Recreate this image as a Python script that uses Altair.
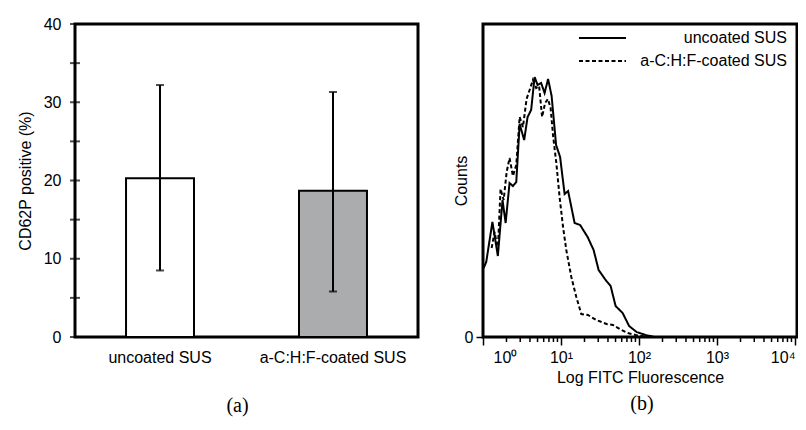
import altair as alt
import pandas as pd

FONT = "Liberation Sans"

# ---------------- panel (a) data ----------------
categories = ["uncoated SUS", "a-C:H:F-coated SUS"]
means = [20.3, 18.7]
err_low = [8.5, 5.8]
err_high = [32.2, 31.3]
bar_fill = ["#ffffff", "#aaacae"]
y_ticks = [0, 5, 10, 15, 20, 25, 30, 35, 40]

# ---------------- panel (b) data ----------------
unc_fluor = [1.02, 1.10, 1.32, 1.55, 1.78, 1.95, 2.19, 2.42, 2.67, 2.95, 3.37, 3.73,
             4.14, 4.59, 5.01, 5.56, 6.16, 6.83, 7.58, 8.65, 9.74, 11.12, 12.33,
             14.94, 17.58, 21.93, 26.18, 30.35, 37.31, 43.25, 50.12, 61.63, 74.67,
             93.16, 121.5, 158.5]
unc_counts = [69, 75, 115, 81, 137, 114, 154, 151, 155, 213, 197, 220,
              227, 260, 252, 254, 244, 258, 241, 192, 180, 143, 146,
              114, 112, 100, 87, 67, 57, 51, 31, 24, 11,
              5, 2, 0]
coat_fluor = [1.29, 1.41, 1.55, 1.68, 1.84, 2.01, 2.19, 2.42, 2.67, 2.95, 3.25, 3.62,
              3.96, 4.36, 4.80, 5.24, 5.72, 6.25, 6.79, 7.36, 7.92, 8.71, 9.59,
              10.58, 11.69, 13.56, 15.71, 18.21, 22.13, 28.36, 38.42, 46.28, 56.40,
              71.43, 90.42, 118.0, 145.0]
coat_counts = [89, 105, 87, 148, 137, 165, 179, 161, 172, 220, 210, 238,
               247, 257, 249, 251, 220, 234, 238, 229, 201, 174, 140,
               111, 87, 60, 40, 23, 22, 17, 13, 12, 8,
               4, 2, 0.5, 0]
series_names = ["uncoated SUS", "a-C:H:F-coated SUS"]
x_major = [1, 10, 100, 1000, 10000]
x_minor = [m * 10 ** k for k in range(4) for m in range(2, 10)]

# ---------------- panel (a) ----------------
df_bar = pd.DataFrame({"cat": categories, "mean": means, "lo": err_low, "hi": err_high})
df_yt = pd.DataFrame({"v": y_ticks})

W_A, H = 343, 313

x_a = alt.X("cat:N", sort=categories,
            scale=alt.Scale(paddingInner=0.607, paddingOuter=0.295),
            axis=alt.Axis(title=None, labelAngle=0, ticks=False, domain=False,
                          labelPadding=12, labelFontSize=16))

bars = alt.Chart(df_bar).mark_bar(stroke="black", strokeWidth=2).encode(
    x=x_a,
    y=alt.Y("mean:Q", scale=alt.Scale(domain=[0, 40], nice=False),
            axis=alt.Axis(values=y_ticks, ticks=False, domain=False, grid=False,
                          labelOverlap=False,
                          title="CD62P positive (%)", labelPadding=14,
                          titleX=-49.5, titleBaseline="middle")),
    fill=alt.Fill("cat:N", scale=alt.Scale(domain=categories, range=bar_fill), legend=None),
)
err_rule = alt.Chart(df_bar).mark_rule(color="black", strokeWidth=2).encode(
    x=alt.X("cat:N", sort=categories), y="lo:Q", y2="hi:Q")
cap_lo = alt.Chart(df_bar).mark_tick(color="black", size=8, thickness=2).encode(
    x=alt.X("cat:N", sort=categories), y="lo:Q")
cap_hi = alt.Chart(df_bar).mark_tick(color="black", size=8, thickness=2).encode(
    x=alt.X("cat:N", sort=categories), y="hi:Q")
in_ticks = alt.Chart(df_yt).mark_tick(color="black", orient="horizontal", size=10,
                                      thickness=2).encode(
    y="v:Q", x=alt.value(0))

left = alt.layer(bars, err_rule, cap_lo, cap_hi, in_ticks).properties(
    width=W_A, height=H,
    title=alt.TitleParams("(a)", orient="bottom", font="Liberation Serif", fontSize=20,
                          fontWeight="normal", color="black", frame="group",
                          dx=-9, offset=31),
)

# ---------------- panel (b) ----------------
W_B = 314
df_curves = pd.concat([
    pd.DataFrame({"fluor": unc_fluor, "count": unc_counts, "series": series_names[0]}),
    pd.DataFrame({"fluor": coat_fluor, "count": coat_counts, "series": series_names[1]}),
])
df_minor = pd.DataFrame({"v": x_minor})
one = pd.DataFrame({"a": [0]})

dash_scale = alt.Scale(domain=series_names, range=[[1, 0], [4, 2.5]])

lines = alt.Chart(df_curves).mark_line(color="black", strokeWidth=2).encode(
    x=alt.X("fluor:Q", scale=alt.Scale(type="log", domain=[1, 10600], nice=False),
            axis=alt.Axis(values=x_major, tickSize=8, tickWidth=1.5, labelFlush=False,
                          labelExpr="'10' + ['⁰','¹','²','³','⁴'][round(log(datum.value)/LN10)]",
                          labelOffset={"condition": {"test": "datum.value < 2", "value": 22}, "value": 0},
                          labelAlign={"condition": {"test": "datum.value > 5000", "value": "right"}, "value": "center"},
                          labelPadding=4, title="Log FITC Fluorescence", titlePadding=4)),
    y=alt.Y("count:Q", scale=alt.Scale(domain=[0, 313], nice=False),
            axis=alt.Axis(values=[0], tickSize=7, tickWidth=1.5, labelPadding=3,
                          title="Counts", titleX=-22, titleBaseline="middle")),
    strokeDash=alt.StrokeDash("series:N", scale=dash_scale, legend=None),
    order="fluor:Q",
)
minor = alt.Chart(df_minor).mark_rule(color="black", strokeWidth=1.5).encode(
    x="v:Q", y=alt.value(H), y2=alt.value(H + 5))

leg1 = alt.Chart(one).mark_rule(color="black", strokeWidth=2).encode(
    x=alt.value(96), x2=alt.value(143), y=alt.value(14))
leg2 = alt.Chart(one).mark_rule(color="black", strokeWidth=2, strokeDash=[4, 2.5]).encode(
    x=alt.value(96), x2=alt.value(143), y=alt.value(37))
txt1 = alt.Chart(one).mark_text(align="right", baseline="middle", font=FONT, fontSize=16,
                                color="black").encode(
    x=alt.value(304), y=alt.value(14), text=alt.value(series_names[0]))
txt2 = alt.Chart(one).mark_text(align="right", baseline="middle", font=FONT, fontSize=16,
                                color="black").encode(
    x=alt.value(304), y=alt.value(37), text=alt.value(series_names[1]))

right = alt.layer(lines, minor, leg1, leg2, txt1, txt2).properties(
    width=W_B, height=H,
    title=alt.TitleParams("(b)", orient="bottom", font="Liberation Serif", fontSize=20,
                          fontWeight="normal", color="black", frame="group",
                          dx=2, offset=9),
)

chart = alt.hconcat(left, right, spacing=31).configure(
    padding={"left": 8, "top": 6, "right": -1, "bottom": -1}
).configure_view(
    stroke="black", strokeWidth=3
).configure_axis(
    labelFont=FONT, titleFont=FONT, labelFontSize=16, titleFontSize=16,
    titleFontWeight="normal", labelColor="black", titleColor="black",
    tickColor="black", grid=False, domain=False,
)

chart.save("out.html", embed_options={"renderer": "svg", "actions": False})
